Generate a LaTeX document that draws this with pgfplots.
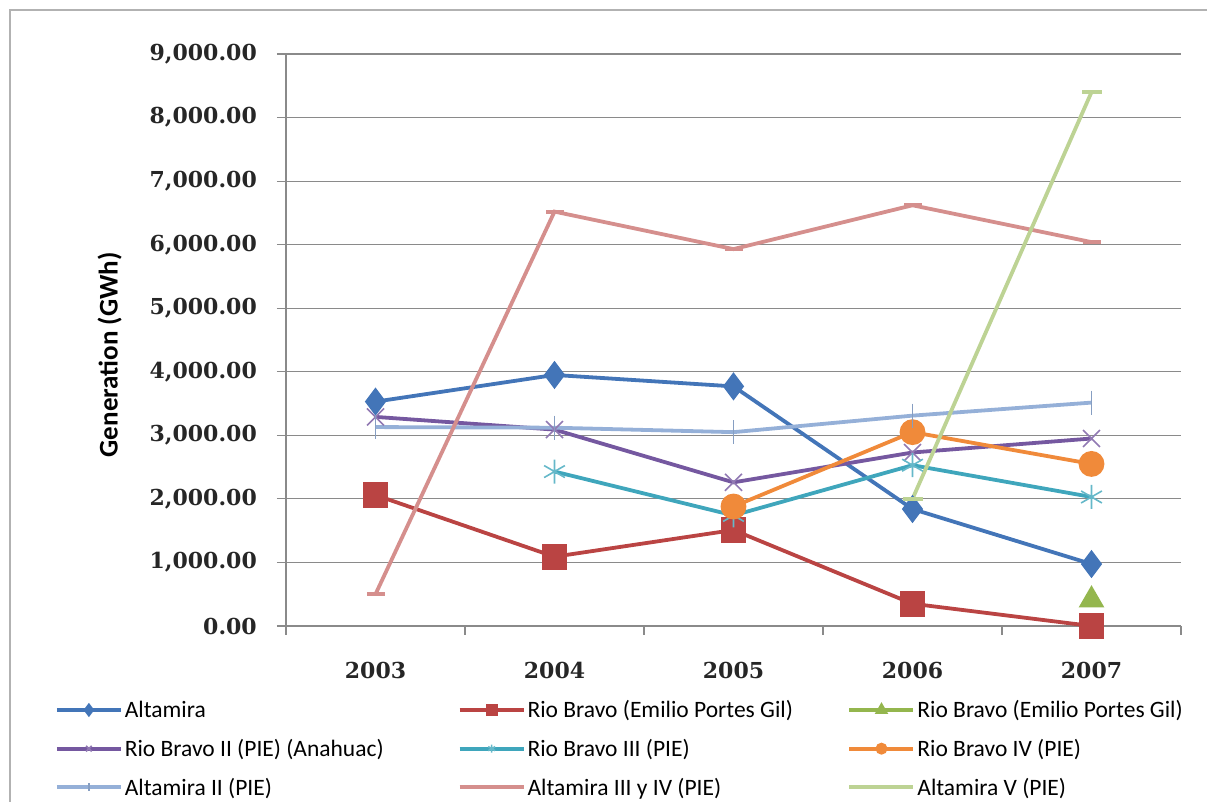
\documentclass[border=0pt]{standalone}
\usepackage{fontspec}
\usepackage{pgfplots}
\pgfplotsset{compat=1.18}
\setmainfont{Carlito}
\newfontfamily\tickfont{DejaVu Serif}
\definecolor{cA}{HTML}{4375B8}
\definecolor{cB}{HTML}{BA4443}
\definecolor{cC}{HTML}{94B64E}
\definecolor{cD}{HTML}{7558A0}
\definecolor{cE}{HTML}{3FA6BC}
\definecolor{cF}{HTML}{F08A3A}
\definecolor{cG}{HTML}{95B0D8}
\definecolor{cH}{HTML}{D58F8D}
\definecolor{cI}{HTML}{BDD394}
\definecolor{gridc}{HTML}{8A8A8A}
\begin{document}
\begin{tikzpicture}[x=1pt,y=1pt]
\useasboundingbox (0,0) rectangle (1207,802);
\draw[gray!60, line width=1.6pt] (10,-5) -- (10,792) -- (1215,792);
\begin{axis}[
  at={(286pt,176pt)}, anchor=south west,
  scale only axis, width=895pt, height=572pt,
  xmin=-0.5, xmax=4.5, ymin=0, ymax=9000,
  clip=false,
  axis lines*=left,
  axis line style={gridc, line width=1.2pt, -},
  xtick={0,1,2,3,4},
  xticklabels={2003,2004,2005,2006,2007},
  minor xtick={-0.5,0.5,1.5,2.5,3.5,4.5},
  major x tick style={draw=none},
  minor x tick style={gridc, line width=1.2pt},
  minor tick length=9pt,
  ytick={0,1000,...,9000},
  ymajorgrids,
  grid style={gridc, line width=1.2pt},
  major y tick style={gridc, line width=1.2pt},
  major tick length=9pt,
  tick align=outside,
  /pgf/number format/.cd, fixed, fixed zerofill, precision=2, 1000 sep={,}, assume math mode=true,
  /pgfplots/.cd,
  yticklabel style={font=\fontsize{22}{26}\selectfont\tickfont\bfseries, text=black!85, inner sep=0pt, xshift=-20pt},
  xticklabel style={font=\fontsize{22}{26}\selectfont\tickfont\bfseries, text=black!85, inner sep=0pt, yshift=-27pt},
  ylabel={Generation (GWh)},
  ylabel style={font=\fontsize{27}{32}\selectfont\bfseries, at={(axis description cs:-0.197,0.474)}, anchor=center, rotate=0},
  legend columns=3,
  legend cell align=left,
  legend style={draw=none, fill=none, at={(rel axis cs:-0.2581,-0.127)}, anchor=north west, inner sep=0pt, outer sep=0pt,
     font=\fontsize{23.5}{27}\selectfont, row sep=16pt, nodes={inner sep=2pt}},
  legend image code/.code={\draw[mark repeat=2,mark phase=2,#1] plot coordinates {(0pt,0pt) (32pt,0pt) (64pt,0pt)};},
  every axis plot/.append style={line width=3.8pt},
  legend image post style={mark size=4pt, line width=3.8pt},
]
\addplot[cA, mark=diamond*, mark size=11pt, mark options={solid}] coordinates {(0,3530) (1,3950) (2,3770) (3,1840) (4,975)};
\addlegendentry{\makebox[331pt][l]{Altamira}}
\addplot[cB, mark=square*, mark size=11pt] coordinates {(0,2060) (1,1090) (2,1510) (3,350) (4,0)};
\addlegendentry{\makebox[318pt][l]{Rio Bravo (Emilio Portes Gil)}}
\addplot[cC, mark=triangle*, mark size=11pt] coordinates {(4,410)};
\addlegendentry{Rio Bravo (Emilio Portes Gil)}
\addplot[cD, mark=x, mark size=12pt, mark options={line width=1.6pt, draw=cD!80}] coordinates {(0,3290) (1,3090) (2,2260) (3,2730) (4,2950)};
\addlegendentry{\makebox[331pt][l]{Rio Bravo II (PIE) (Anahuac)}}
\addplot[cE, mark=asterisk, mark size=12pt, mark options={line width=1.6pt, draw=cE!80}] coordinates {(1,2430) (2,1740) (3,2530) (4,2030)};
\addlegendentry{\makebox[318pt][l]{Rio Bravo III (PIE)}}
\addplot[cF, mark=*, mark size=11pt] coordinates {(2,1880) (3,3050) (4,2550)};
\addlegendentry{Rio Bravo IV (PIE)}
\addplot[cG, mark=|, mark size=12pt, mark options={line width=1.5pt, draw=cG!90!black}] coordinates {(0,3130) (1,3120) (2,3050) (3,3310) (4,3515)};
\addlegendentry{\makebox[331pt][l]{Altamira II (PIE)}}
\addplot[cH, mark=-, mark size=9pt, mark options={line width=3.8pt}] coordinates {(0,500) (1,6520) (2,5930) (3,6620) (4,6040)};
\addlegendentry{\makebox[318pt][l]{Altamira III y IV (PIE)}}
\addplot[cI, mark=-, mark size=10pt, mark options={line width=3.8pt}] coordinates {(3,2000) (4,8400)};
\addlegendentry{Altamira V (PIE)}
\end{axis}
\end{tikzpicture}
\end{document}
